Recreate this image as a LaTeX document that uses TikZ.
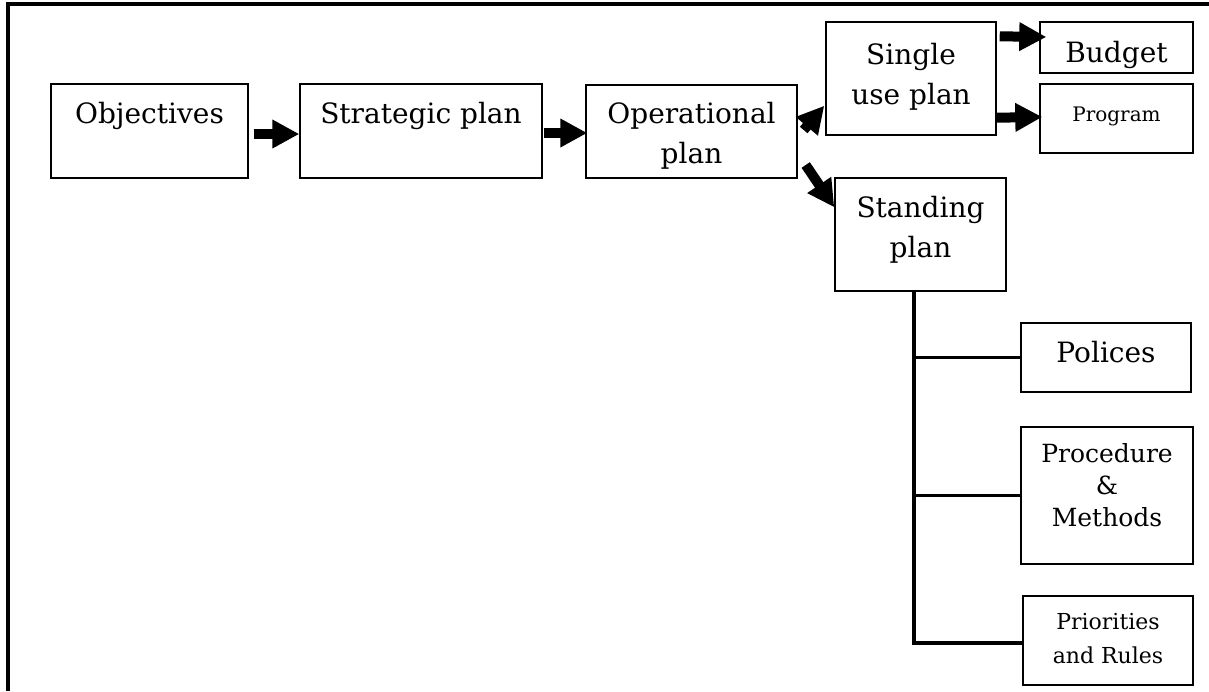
\documentclass[tikz,border=0pt]{standalone}
\usepackage{fontspec}
\setmainfont{DejaVu Serif}
\usetikzlibrary{positioning, fit, arrows.meta}

\tikzset{
  box/.style={draw, line width=0.7pt, inner sep=0pt},
  txt/.style={inner sep=0pt, align=center, font=\fontsize{14}{20}\selectfont},
  fat/.style={line width=5pt, -{Triangle[length=13.5pt, width=13.5pt]}},
  tree/.style={line width=1.6pt},
}

\begin{document}
\begin{tikzpicture}[x=0.5pt, y=-0.5pt]
  \useasboundingbox (0,0) rectangle (1209,691);
  % frame (top and left edge only)
  \draw[line width=2pt] (1209,4) -- (8,4) -- (8,691);

  % boxes, corners in pixels of the reference
  \node[box, fit={(51,84) (248,178)}]    (obj)    {};
  \node[box, fit={(300,84) (542,178)}]   (strat)  {};
  \node[box, fit={(586,85) (797,178)}]   (oper)   {};
  \node[box, fit={(826,22) (996,135)}]   (single) {};
  \node[box, fit={(1040,22) (1193,73)}]  (budget) {};
  \node[box, fit={(1040,84) (1193,153)}] (prog)   {};
  \node[box, fit={(835,178) (1006,291)}] (stand)  {};
  \node[box, fit={(1021,323) (1191,392)}](pol)    {};
  \node[box, fit={(1021,427) (1193,564)}](proc)   {};
  \node[box, fit={(1023,596) (1193,685)}](prio)   {};

  % texts, hung from the top of each box
  \node[txt, below=9.5pt of obj.north]   {Objectives};
  \node[txt, below=9.5pt of strat.north] {Strategic plan};
  \node[txt, below=9pt of oper.north]    {Operational\\plan};
  \node[txt, below=11pt of single.north] {Single\\use plan};
  \node[txt, below=10pt of budget.north] {Budget};
  \node[txt, below=11.5pt of prog.north, font=\fontsize{10}{12}\selectfont] {Program};
  \node[txt, below=9.5pt of stand.north] {Standing\\plan};
  \node[txt, below=9.5pt of pol.north, font=\fontsize{14}{18}\selectfont] {Polices};
  \node[txt, below=8.5pt of proc.north, font=\fontsize{12.5}{16}\selectfont] {Procedure\\\&\\Methods};
  \node[txt, below=9pt of prio.north, font=\fontsize{11}{17}\selectfont] {Priorities\\and Rules};

  % block arrows
  \draw[fat] ([shift={(5,3)}]obj.east) -- ([shift={(0,3)}]strat.west);
  \draw[fat] ([shift={(1,2)}]strat.east) -- ([shift={(2,1.5)}]oper.west);
  \draw[fat] ([shift={(6,-1.5)}]oper.east) -- ([shift={(-1,-30)}]single.south west);
  \draw[fat] ([shift={(8,33.5)}]oper.east) -- ([shift={(0,30)}]stand.north west);
  \draw[fat] ([shift={(3,15)}]single.north east) -- ([shift={(7,-10.5)}]budget.west);
  \draw[fat] ([shift={(0,-18)}]single.south east) -- ([shift={(3,-1.5)}]prog.west);

  % standing plan tree
  \coordinate (trunk) at ([xshift=-3.25pt]stand.south);
  \draw[tree] (trunk) |- ([yshift=-1.25pt]prio.west);
  \draw[tree] (pol.west) -- (pol.west -| trunk);
  \draw[tree] (proc.west) -- (proc.west -| trunk);
\end{tikzpicture}
\end{document}
